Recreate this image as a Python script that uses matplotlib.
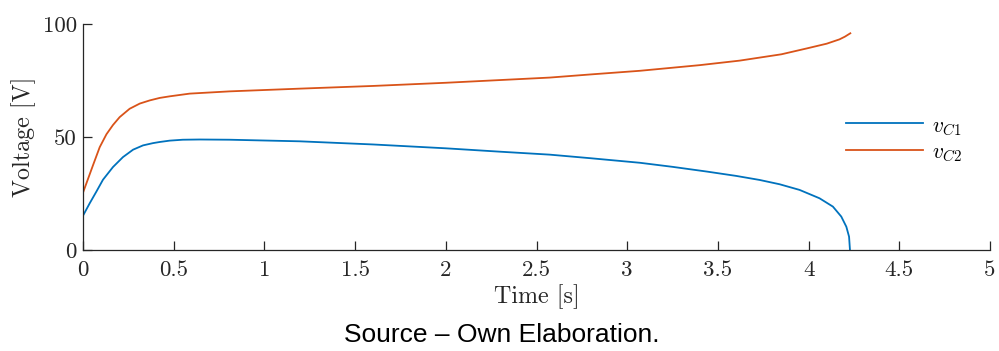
import matplotlib
matplotlib.use("Agg")
import matplotlib.pyplot as plt

plt.rcParams['mathtext.fontset'] = 'cm'
plt.rcParams['font.family'] = ['cmr10', 'DejaVu Serif']
plt.rcParams['axes.formatter.use_mathtext'] = True

# data
t_c1 = [0.0, 0.037, 0.074, 0.110, 0.165, 0.220, 0.276, 0.331, 0.386, 0.423, 0.478, 0.55, 0.643, 0.809,
        0.919, 1.194, 1.6, 2.0, 2.3, 2.573, 2.8, 3.07, 3.25, 3.44, 3.6, 3.73, 3.84, 3.95, 4.06, 4.134,
        4.18, 4.208, 4.223, 4.228]
v_c1 = [15.2, 20.7, 25.9, 31.1, 36.7, 41.1, 44.4, 46.3, 47.3, 47.8, 48.4, 48.8, 48.9, 48.8,
        48.6, 48.1, 46.7, 45.0, 43.5, 42.2, 40.6, 38.6, 36.8, 34.7, 32.8, 31.0, 29.1, 26.6, 22.9, 19.2,
        14.8, 10.3, 5.9, 0.0]
t_c2 = [0.0, 0.055, 0.092, 0.129, 0.165, 0.202, 0.257, 0.313, 0.368, 0.423, 0.478, 0.588, 0.809,
        1.194, 1.6, 2.0, 2.573, 2.8, 3.07, 3.4, 3.62, 3.85, 3.99, 4.1, 4.17, 4.2, 4.23]
v_c2 = [25.4, 37.5, 45.5, 51.2, 55.3, 58.8, 62.5, 64.8, 66.2, 67.3, 68.0, 69.2, 70.2,
        71.4, 72.6, 74.0, 76.3, 77.7, 79.3, 81.8, 83.8, 86.6, 89.2, 91.3, 93.2, 94.4, 95.9]
labels = [r'$v_{C1}$', r'$v_{C2}$']
xticks = [0, 0.5, 1, 1.5, 2, 2.5, 3, 3.5, 4, 4.5, 5]
yticks = [0, 50, 100]

fig = plt.figure(figsize=(9.99, 3.51), dpi=100)
ax = fig.add_axes([0.0831, 0.2877, 0.9079, 0.6439])

ax.plot(t_c1, v_c1, color='#0072BD', lw=1.3, label=labels[0])
ax.plot(t_c2, v_c2, color='#D95319', lw=1.3, label=labels[1])

ax.set_xlim(0, 5)
ax.set_ylim(0, 100)
ax.set_xticks(xticks)
ax.set_xticklabels([f'{v:g}' for v in xticks])
ax.set_yticks(yticks)
ax.set_yticklabels([str(v) for v in yticks])
for s in ['top', 'right']:
    ax.spines[s].set_visible(False)
for s in ['left', 'bottom']:
    ax.spines[s].set_color('#262626')
    ax.spines[s].set_linewidth(0.9)
ax.tick_params(axis='both', direction='in', length=6.5, width=0.9, color='#262626',
               labelsize=16.5, labelcolor='#262626')
ax.tick_params(axis='x', pad=7.5)
ax.tick_params(axis='y', pad=4.5)

ax.set_xlabel('Time [s]', fontsize=17.3, color='#262626', labelpad=3)
ax.set_ylabel('Voltage [V]', fontsize=17.3, color='#262626', labelpad=5)

leg = ax.legend(loc='center left', bbox_to_anchor=(0.841, 0.49), frameon=False,
                fontsize=15.5, handlelength=3.6, handletextpad=0.4, labelspacing=0.25,
                borderpad=0, borderaxespad=0)

fig.text(0.502, 0.045, 'Source – Own Elaboration.', ha='center', va='center',
         fontsize=19, family=['Liberation Sans', 'DejaVu Sans'])

fig.savefig('out.png', dpi=100)
